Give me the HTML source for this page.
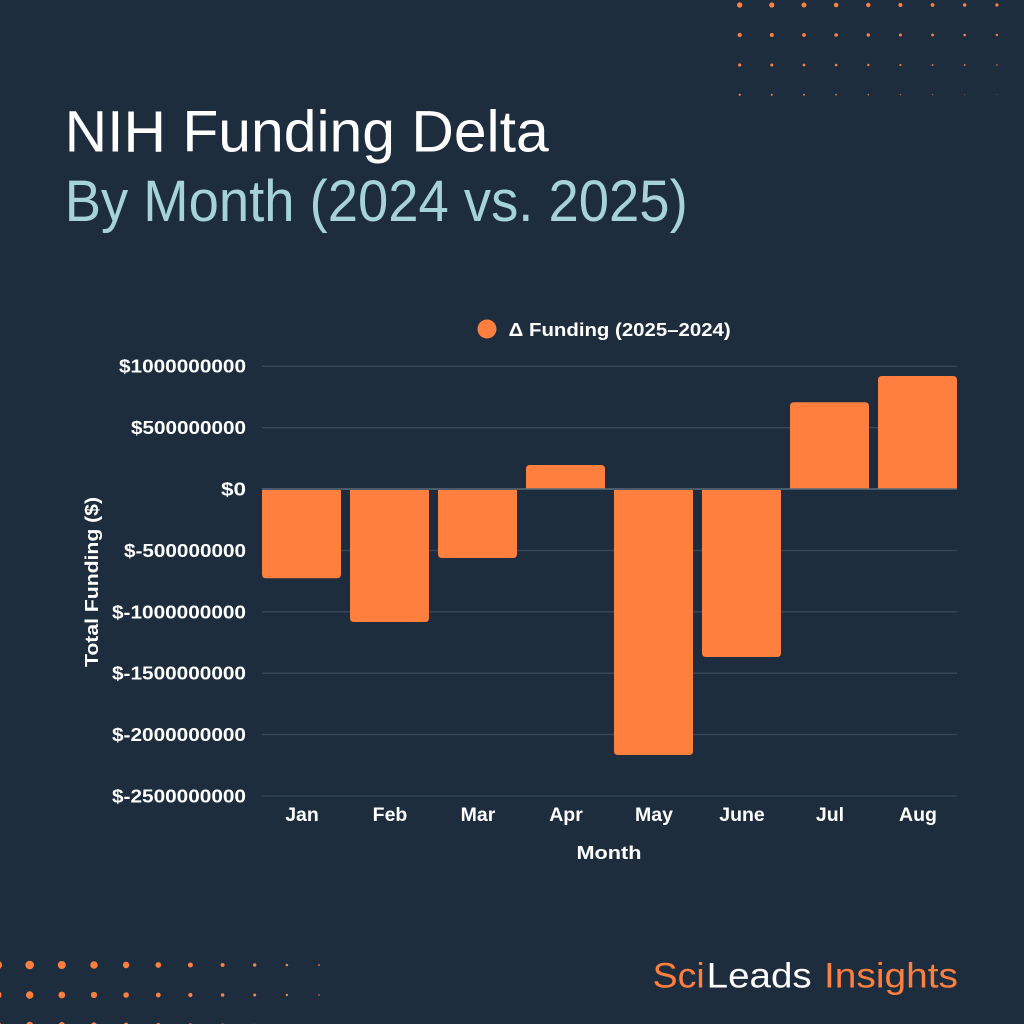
<!DOCTYPE html>
<html>
<head>
<meta charset="utf-8">
<style>
html,body{margin:0;padding:0;background:#1e2d3d;}
svg{display:block;}
</style>
</head>
<body>
<svg width="1024" height="1024" viewBox="0 0 1024 1024" xmlns="http://www.w3.org/2000/svg">
<rect width="1024" height="1024" fill="#1e2d3d"/>

<!-- top-right dots -->
<g fill="#ff7f3f">
<circle cx="739.7" cy="5" r="2.7"/><circle cx="771.8" cy="5" r="2.6"/><circle cx="804" cy="5" r="2.5"/><circle cx="836.1" cy="5" r="2.3"/><circle cx="868.3" cy="5" r="2.2"/><circle cx="900.4" cy="5" r="2.0"/><circle cx="932.6" cy="5" r="1.9"/><circle cx="964.7" cy="5" r="1.7"/><circle cx="996.9" cy="5" r="1.6"/>
<circle cx="739.7" cy="35" r="2.1"/><circle cx="771.8" cy="35" r="2.0"/><circle cx="804" cy="35" r="1.9"/><circle cx="836.1" cy="35" r="1.8"/><circle cx="868.3" cy="35" r="1.7"/><circle cx="900.4" cy="35" r="1.5"/><circle cx="932.6" cy="35" r="1.4"/><circle cx="964.7" cy="35" r="1.3"/><circle cx="996.9" cy="35" r="1.2"/>
<circle cx="739.7" cy="65" r="1.6"/><circle cx="771.8" cy="65" r="1.5"/><circle cx="804" cy="65" r="1.4"/><circle cx="836.1" cy="65" r="1.3"/><circle cx="868.3" cy="65" r="1.2"/><circle cx="900.4" cy="65" r="1.1" opacity="0.9"/><circle cx="932.6" cy="65" r="1.0" opacity="0.85"/><circle cx="964.7" cy="65" r="1.0" opacity="0.8"/><circle cx="996.9" cy="65" r="0.9" opacity="0.75"/>
<circle cx="739.7" cy="94.7" r="1.1"/><circle cx="771.8" cy="94.7" r="1.0"/><circle cx="804" cy="94.7" r="0.95"/><circle cx="836.1" cy="94.7" r="0.9" opacity="0.85"/><circle cx="868.3" cy="94.7" r="0.8" opacity="0.8"/><circle cx="900.4" cy="94.7" r="0.7" opacity="0.7"/><circle cx="932.6" cy="94.7" r="0.7" opacity="0.6"/><circle cx="964.7" cy="94.7" r="0.6" opacity="0.5"/><circle cx="996.9" cy="94.7" r="0.6" opacity="0.4"/>
</g>

<!-- bottom-left dots -->
<g fill="#ff7f3f">
<circle cx="-2.5" cy="965" r="4.5"/><circle cx="29.7" cy="965" r="4.3"/><circle cx="61.8" cy="965" r="4.0"/><circle cx="94" cy="965" r="3.7"/><circle cx="126.1" cy="965" r="3.2"/><circle cx="158.3" cy="965" r="2.9"/><circle cx="190.4" cy="965" r="2.5"/><circle cx="222.6" cy="965" r="2.0"/><circle cx="254.7" cy="965" r="1.7"/><circle cx="286.9" cy="965" r="1.3"/><circle cx="319" cy="965" r="0.9"/>
<circle cx="-2.5" cy="995" r="4.0"/><circle cx="29.7" cy="995" r="3.7"/><circle cx="61.8" cy="995" r="3.4"/><circle cx="94" cy="995" r="3.1"/><circle cx="126.1" cy="995" r="2.8"/><circle cx="158.3" cy="995" r="2.4"/><circle cx="190.4" cy="995" r="2.1"/><circle cx="222.6" cy="995" r="1.8"/><circle cx="254.7" cy="995" r="1.5"/><circle cx="286.9" cy="995" r="1.2"/><circle cx="319" cy="995" r="0.8"/>
<circle cx="-2.5" cy="1025" r="3.6"/><circle cx="29.7" cy="1025" r="3.3"/><circle cx="61.8" cy="1025" r="3.0"/><circle cx="94" cy="1025" r="2.7"/><circle cx="126.1" cy="1025" r="2.4"/><circle cx="158.3" cy="1025" r="2.1"/><circle cx="190.4" cy="1025" r="1.8"/><circle cx="222.6" cy="1025" r="1.5"/><circle cx="254.7" cy="1025" r="1.2"/><circle cx="286.9" cy="1025" r="1.0"/><circle cx="319" cy="1025" r="0.7"/>
</g>

<!-- Title -->
<text x="64.7" y="151.7" font-family="'Liberation Sans', sans-serif" font-size="58" fill="#ffffff" textLength="484" lengthAdjust="spacingAndGlyphs">NIH Funding Delta</text>
<text x="64.7" y="221" font-family="'Liberation Sans', sans-serif" font-size="58" fill="#a6d3da" textLength="623" lengthAdjust="spacingAndGlyphs">By Month (2024 vs. 2025)</text>

<!-- Legend -->
<circle cx="487" cy="329" r="9.5" fill="#ff7f3f"/>
<text x="508.7" y="336" font-family="'Liberation Sans', sans-serif" font-weight="bold" font-size="18" fill="#ffffff" textLength="222" lengthAdjust="spacingAndGlyphs">Δ Funding (2025–2024)</text>

<!-- Gridlines -->
<g stroke="#36475a" stroke-width="1.3">
<line x1="262" y1="366.3" x2="957" y2="366.3"/>
<line x1="262" y1="427.7" x2="957" y2="427.7"/>
<line x1="262" y1="550.5" x2="957" y2="550.5"/>
<line x1="262" y1="611.8" x2="957" y2="611.8"/>
<line x1="262" y1="673.2" x2="957" y2="673.2"/>
<line x1="262" y1="734.5" x2="957" y2="734.5"/>
<line x1="262" y1="796" x2="957" y2="796"/>
</g>

<!-- Y tick labels -->
<g font-family="'Liberation Sans', sans-serif" font-weight="bold" font-size="18" fill="#ffffff" text-anchor="end">
<text x="246" y="372.5" textLength="127" lengthAdjust="spacingAndGlyphs">$1000000000</text>
<text x="246" y="434" textLength="115" lengthAdjust="spacingAndGlyphs">$500000000</text>
<text x="246" y="495.5" textLength="25" lengthAdjust="spacingAndGlyphs">$0</text>
<text x="246" y="557" textLength="122" lengthAdjust="spacingAndGlyphs">$-500000000</text>
<text x="246" y="618.3" textLength="134" lengthAdjust="spacingAndGlyphs">$-1000000000</text>
<text x="246" y="679.7" textLength="134" lengthAdjust="spacingAndGlyphs">$-1500000000</text>
<text x="246" y="741" textLength="134" lengthAdjust="spacingAndGlyphs">$-2000000000</text>
<text x="246" y="802.5" textLength="134" lengthAdjust="spacingAndGlyphs">$-2500000000</text>
</g>

<!-- Y axis title -->
<text transform="translate(98,582) rotate(-90)" text-anchor="middle" font-family="'Liberation Sans', sans-serif" font-weight="bold" font-size="18" fill="#ffffff" textLength="170" lengthAdjust="spacingAndGlyphs">Total Funding ($)</text>

<!-- Bars -->
<g fill="#ff7f3f">
<path d="M262,490 H341 V574.3 Q341,578.3 337,578.3 H266 Q262,578.3 262,574.3 Z"/>
<path d="M350,490 H429 V618 Q429,622 425,622 H354 Q350,622 350,618 Z"/>
<path d="M438,490 H517 V554 Q517,558 513,558 H442 Q438,558 438,554 Z"/>
<path d="M526,489 H605 V469 Q605,465 601,465 H530 Q526,465 526,469 Z"/>
<path d="M614,490 H693 V751 Q693,755 689,755 H618 Q614,755 614,751 Z"/>
<path d="M702,490 H781 V653 Q781,657 777,657 H706 Q702,657 702,653 Z"/>
<path d="M790,489 H869 V406.3 Q869,402.3 865,402.3 H794 Q790,402.3 790,406.3 Z"/>
<path d="M878,489 H957 V380 Q957,376 953,376 H882 Q878,376 878,380 Z"/>
</g>

<!-- zero line -->
<line x1="262" y1="489" x2="957" y2="489" stroke="#5b6b7a" stroke-width="1.5"/>

<!-- X labels -->
<g font-family="'Liberation Sans', sans-serif" font-weight="bold" font-size="19.5" fill="#ffffff" text-anchor="middle">
<text x="302" y="821">Jan</text>
<text x="390" y="821">Feb</text>
<text x="478" y="821">Mar</text>
<text x="566" y="821">Apr</text>
<text x="654" y="821">May</text>
<text x="742" y="821">June</text>
<text x="830" y="821">Jul</text>
<text x="918" y="821">Aug</text>
</g>
<text x="609" y="859" text-anchor="middle" font-family="'Liberation Sans', sans-serif" font-weight="bold" font-size="18" fill="#ffffff" textLength="65" lengthAdjust="spacingAndGlyphs">Month</text>

<!-- Logo -->
<g font-family="'Liberation Sans', sans-serif" font-size="35">
<text x="652.7" y="987.3" fill="#ff7f3f" textLength="52" lengthAdjust="spacingAndGlyphs">Sci</text>
<text x="706.7" y="987.3" fill="#ffffff" textLength="105" lengthAdjust="spacingAndGlyphs">Leads</text>
<text x="824" y="987.3" fill="#ff7f3f" textLength="134" lengthAdjust="spacingAndGlyphs">Insights</text>
</g>
</svg>
</body>
</html>
